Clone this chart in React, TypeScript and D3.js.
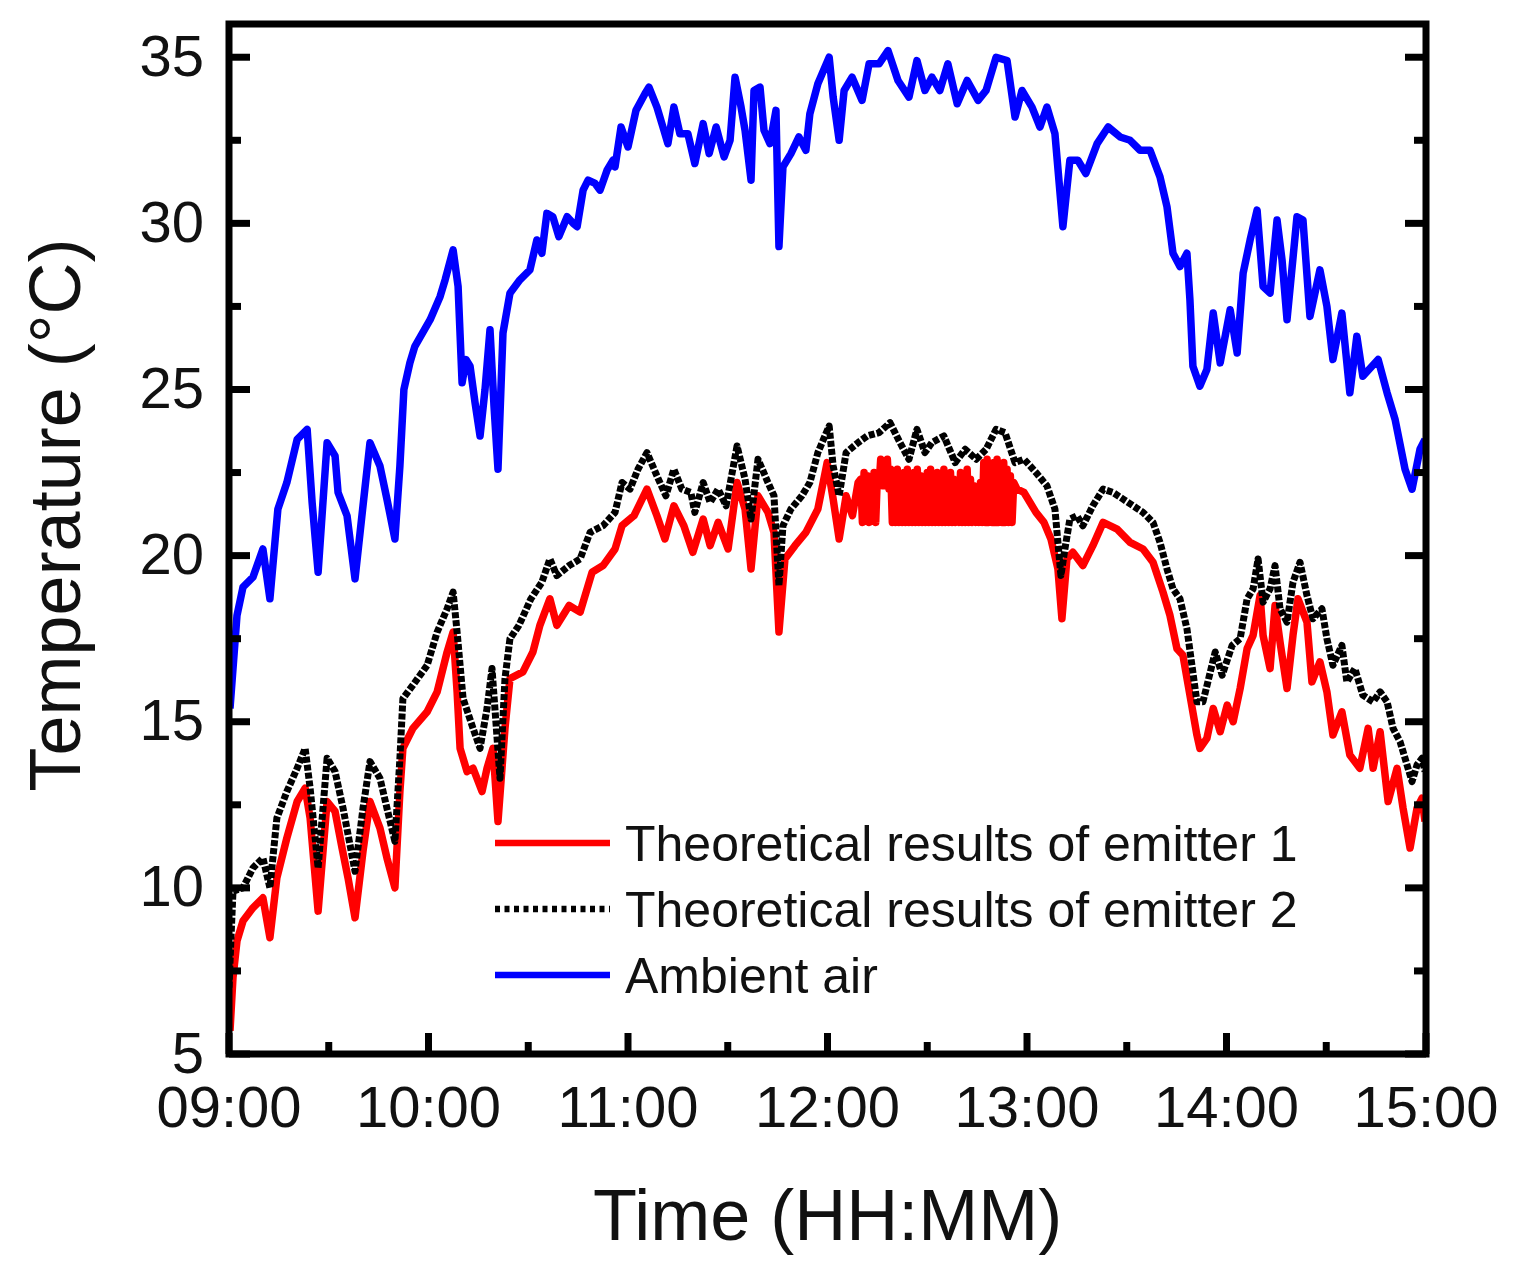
import React from 'react';
import * as d3 from 'd3';

type Pt = [number, number];

// time in minutes after 09:00, temperature in °C
const xTickLabels = ['09:00', '10:00', '11:00', '12:00', '13:00', '14:00', '15:00'];
const yTickValues = [5, 10, 15, 20, 25, 30, 35];
const legendLabels = ['Theoretical results of emitter 1', 'Theoretical results of emitter 2', 'Ambient air'];

const ambientAir: Pt[] = [
  [0.3, 15.4], [2.4, 18.2], [4.2, 19.05], [7.2, 19.35], [10.2, 20.2], [12.3, 18.7], [14.7, 21.4], [17.4, 22.2],
  [20.5, 23.5], [23.5, 23.8], [25.0, 21.6], [26.8, 19.5], [29.5, 23.4], [31.9, 23.0], [32.8, 21.9], [35.5, 21.2],
  [37.9, 19.3], [40.3, 21.5], [42.4, 23.4], [45.4, 22.7], [47.5, 21.7], [49.9, 20.5], [51.4, 22.7], [52.6, 25.0],
  [54.4, 25.8], [55.9, 26.3], [60.5, 27.1], [63.5, 27.8], [65.0, 28.3], [67.4, 29.2], [68.9, 28.1], [70.1, 25.2],
  [71.3, 25.9], [72.5, 25.7], [74.0, 24.6], [75.5, 23.6], [77.0, 25.0], [78.5, 26.8], [79.7, 24.5], [80.9, 22.6],
  [82.4, 26.7], [84.5, 27.9], [87.5, 28.3], [90.5, 28.6], [92.6, 29.5], [94.1, 29.1], [95.6, 30.3], [97.4, 30.2],
  [99.2, 29.6], [101.7, 30.2], [103.5, 30.0], [104.7, 29.9], [106.5, 31.0], [108.0, 31.3], [110.1, 31.2], [111.6, 31.0],
  [113.7, 31.6], [115.5, 31.9], [116.1, 31.7], [117.9, 32.9], [120.0, 32.3], [122.4, 33.4], [125.1, 33.9], [126.3, 34.1],
  [128.7, 33.5], [130.5, 32.9], [132.0, 32.4], [133.8, 33.5], [135.6, 32.7], [138.0, 32.7], [140.1, 31.8], [142.6, 33.0],
  [144.4, 32.1], [146.5, 32.9], [148.9, 32.0], [150.7, 32.5], [152.2, 34.4], [154.0, 33.5], [155.2, 32.8], [157.0, 31.3],
  [157.9, 34.0], [159.7, 34.1], [160.9, 32.8], [162.7, 32.4], [164.5, 33.4], [165.4, 29.3], [166.6, 31.7], [169.0, 32.1],
  [171.4, 32.6], [173.5, 32.2], [174.7, 33.3], [177.1, 34.2], [180.5, 35.0], [181.7, 33.8], [183.5, 32.5], [185.0, 34.0],
  [187.4, 34.4], [190.4, 33.7], [192.5, 34.8], [195.5, 34.8], [198.2, 35.2], [201.2, 34.3], [204.5, 33.8], [206.9, 34.9],
  [209.3, 34.0], [211.4, 34.4], [213.8, 34.0], [216.2, 34.8], [219.0, 33.6], [222.0, 34.3], [225.3, 33.7], [227.7, 34.0],
  [230.7, 35.0], [234.0, 34.9], [236.4, 33.2], [238.5, 34.0], [241.5, 33.5], [243.9, 32.9], [246.0, 33.5], [248.4, 32.7],
  [250.8, 29.9], [252.9, 31.9], [255.3, 31.9], [257.7, 31.5], [261.1, 32.4], [264.4, 32.9], [268.0, 32.6], [271.0, 32.5],
  [274.0, 32.2], [277.0, 32.2], [280.0, 31.4], [282.1, 30.5], [283.9, 29.1], [286.0, 28.7], [288.1, 29.1], [289.0, 27.7],
  [289.9, 25.7], [292.0, 25.1], [294.1, 25.6], [296.0, 27.3], [298.1, 25.8], [301.1, 27.4], [303.2, 26.1], [305.0, 28.5],
  [307.1, 29.5], [309.2, 30.4], [311.0, 28.1], [313.1, 27.9], [315.2, 30.1], [316.7, 28.9], [318.2, 27.1], [321.2, 30.2],
  [323.0, 30.1], [325.1, 27.2], [328.1, 28.6], [330.2, 27.5], [332.0, 25.9], [334.7, 27.3], [337.1, 24.9], [339.2, 26.6],
  [341.0, 25.4], [345.6, 25.9], [348.3, 24.9], [350.7, 24.1], [353.7, 22.6], [355.8, 22.0], [358.2, 23.2], [359.7, 23.5],
];

const emitter1: Pt[] = [
  [0.3, 5.7], [1.2, 7.3], [2.4, 8.4], [4.2, 9.0], [7.2, 9.4], [10.2, 9.7], [12.3, 8.5], [14.4, 10.3], [17.4, 11.5],
  [20.5, 12.6], [22.9, 13.0], [24.4, 12.1], [26.8, 9.3], [29.5, 12.6], [31.9, 12.3], [34.0, 11.2], [35.8, 10.3],
  [37.9, 9.1], [40.3, 11.1], [42.4, 12.6], [45.4, 11.8], [47.5, 10.9], [49.9, 10.0], [51.4, 12.9], [52.3, 14.2],
  [55.3, 14.8], [59.6, 15.3], [62.6, 15.9], [65.6, 17.1], [67.4, 17.7], [68.6, 15.9], [69.5, 14.2], [71.6, 13.5],
  [73.4, 13.6], [76.1, 12.9], [77.6, 13.6], [79.4, 14.2], [80.9, 12.0], [83.0, 14.8], [84.5, 16.3], [88.4, 16.5],
  [91.4, 17.1], [93.5, 17.9], [96.5, 18.7], [98.6, 17.9], [102.3, 18.5], [105.6, 18.3], [109.2, 19.5], [112.5, 19.7],
  [116.1, 20.2], [118.2, 20.9], [121.8, 21.2], [125.7, 22.0], [128.7, 21.2], [131.1, 20.5], [133.8, 21.5], [136.8, 20.9],
  [139.5, 20.1], [142.6, 21.1], [144.7, 20.3], [147.1, 21.0], [150.1, 20.2], [152.8, 22.2], [155.2, 21.4], [157.0, 19.6],
  [159.1, 21.8], [162.1, 21.3], [163.9, 20.7], [165.4, 17.7], [167.2, 19.9], [170.2, 20.3], [173.5, 20.7], [177.1, 21.4],
  [179.9, 22.8], [181.7, 21.7], [183.5, 20.5], [185.6, 21.8], [187.5, 21.2], [189.2, 22.2],
  [190.0, 22.3], [190.5, 21.0], [191.0, 22.5], [191.5, 21.1], [192.0, 22.4], [192.5, 21.0], [193.0, 22.2], [193.5, 21.1],
  [194.0, 22.5], [194.5, 21.0], [195.0, 22.4], [195.5, 22.1], [196.0, 22.9], [196.5, 22.1], [197.0, 22.8], [197.5, 22.1],
  [198.0, 22.9], [198.5, 22.0], [199.0, 22.6], [199.5, 21.0], [200.0, 22.5], [200.5, 21.0], [201.0, 22.6], [201.5, 21.0],
  [202.0, 22.4], [202.5, 21.0], [203.0, 22.5], [203.5, 21.0], [204.0, 22.6], [204.5, 21.0], [205.0, 22.3], [205.5, 21.0],
  [206.0, 22.5], [206.5, 21.0], [207.0, 22.6], [207.5, 21.0], [208.0, 22.4], [208.5, 21.0], [209.0, 22.3], [209.5, 21.0],
  [210.0, 22.5], [210.5, 21.0], [211.0, 22.6], [211.5, 21.0], [212.0, 22.4], [212.5, 21.0], [213.0, 22.5], [213.5, 21.0],
  [214.0, 22.3], [214.5, 21.0], [215.0, 22.6], [215.5, 21.0], [216.0, 22.4], [216.5, 21.0], [217.0, 22.5], [217.5, 21.0],
  [218.0, 22.3], [218.5, 21.0], [219.0, 22.0], [219.5, 21.0], [220.0, 22.5], [220.5, 21.0], [221.0, 22.4], [221.5, 21.0],
  [222.0, 22.6], [222.5, 21.0], [223.0, 22.3], [223.5, 21.0], [224.0, 22.1], [224.5, 21.0], [225.0, 22.0], [225.5, 21.0],
  [226.0, 22.2], [226.5, 21.0], [227.0, 22.8], [227.5, 21.0], [228.0, 22.9], [228.5, 21.0], [229.0, 22.7], [229.5, 21.0],
  [230.0, 22.8], [230.5, 21.0], [231.0, 22.9], [231.5, 21.0], [232.0, 22.7], [232.5, 21.0], [233.0, 22.8], [233.5, 21.0],
  [234.0, 22.6], [234.5, 21.0], [235.0, 22.4], [235.5, 21.0], [236.0, 22.2],
  [237.0, 22.0], [239.1, 21.9], [242.7, 21.3], [245.1, 21.0], [247.2, 20.5], [249.3, 19.6], [250.5, 18.1], [252.0, 19.9],
  [253.8, 20.1], [256.8, 19.7], [259.8, 20.3], [262.9, 21.0], [267.1, 20.8], [271.0, 20.4], [274.9, 20.2], [277.9, 19.8],
  [280.9, 18.9], [283.0, 18.2], [285.1, 17.2], [286.9, 17.0], [289.0, 15.8], [291.1, 14.6], [292.0, 14.2], [294.1, 14.5],
  [296.0, 15.4], [298.1, 14.7], [300.2, 15.5], [302.0, 15.0], [304.1, 16.0], [306.2, 17.2], [308.0, 17.6], [310.1, 18.8],
  [311.0, 17.6], [313.1, 16.6], [314.6, 18.5], [316.1, 17.4], [318.2, 16.0], [320.0, 17.6], [321.5, 18.7], [324.2, 18.0],
  [325.7, 16.2], [328.1, 16.8], [330.2, 15.9], [332.0, 14.6], [334.7, 15.3], [337.1, 14.0], [340.1, 13.6], [342.6, 14.8],
  [344.1, 13.6], [346.2, 14.7], [348.6, 12.6], [351.3, 13.6], [353.1, 12.4], [355.2, 11.2], [357.3, 12.4], [358.8, 12.7],
  [359.7, 12.0],
];

const emitter2: Pt[] = [
  [0.0, 7.0], [0.6, 8.5], [1.2, 9.9], [4.2, 10.0], [7.2, 10.6], [10.2, 10.9], [12.3, 10.0], [14.4, 12.1], [17.4, 12.9],
  [20.5, 13.6], [22.9, 14.2], [24.4, 13.0], [26.8, 10.6], [29.5, 13.9], [31.9, 13.5], [34.3, 12.4], [37.9, 10.5],
  [40.3, 12.4], [42.4, 13.8], [45.4, 13.3], [47.5, 12.4], [49.9, 11.4], [51.4, 13.9], [52.3, 15.7], [55.3, 16.1],
  [59.6, 16.7], [62.6, 17.7], [65.6, 18.4], [67.4, 18.9], [68.6, 17.7], [70.4, 15.7], [73.4, 14.8], [75.5, 14.2],
  [77.6, 15.4], [79.1, 16.6], [81.5, 13.3], [83.0, 16.3], [84.5, 17.5], [87.2, 17.9], [90.8, 18.7], [94.1, 19.2],
  [96.5, 19.9], [98.6, 19.4], [102.3, 19.7], [105.6, 19.9], [108.6, 20.7], [112.5, 20.9], [116.1, 21.3], [118.2, 22.2],
  [120.6, 22.0], [123.0, 22.6], [125.7, 23.1], [128.7, 22.4], [131.4, 21.8], [133.8, 22.6], [136.2, 22.0], [138.9, 21.9],
  [140.1, 21.3], [142.6, 22.2], [144.7, 21.6], [147.1, 22.0], [149.5, 21.5], [152.8, 23.3], [155.2, 22.3], [157.0, 21.1],
  [159.1, 22.9], [162.1, 22.2], [163.9, 21.8], [165.4, 19.1], [166.6, 20.9], [169.0, 21.4], [172.3, 21.8], [174.7, 22.2],
  [177.1, 23.1], [180.5, 23.9], [181.7, 22.7], [183.5, 21.8], [185.6, 23.1], [189.2, 23.4], [191.9, 23.6], [195.5, 23.7],
  [198.8, 24.0], [201.8, 23.4], [204.5, 22.9], [206.9, 23.8], [209.3, 23.1], [211.4, 23.4], [215.0, 23.6], [218.4, 22.8],
  [221.4, 23.2], [224.7, 22.9], [227.7, 23.2], [230.7, 23.8], [233.4, 23.7], [236.4, 22.8], [239.1, 22.9], [242.7, 22.5],
  [246.0, 22.1], [248.4, 21.4], [250.2, 19.4], [251.4, 20.2], [252.9, 21.1], [255.0, 21.2], [256.8, 20.9], [259.8, 21.5],
  [262.9, 22.0], [265.9, 21.9], [268.9, 21.7], [271.9, 21.5], [274.9, 21.3], [277.9, 21.0], [280.0, 20.4], [282.1, 19.6],
  [283.9, 19.0], [286.0, 18.7], [288.1, 17.8], [289.6, 16.7], [291.1, 15.6], [292.9, 15.6], [294.4, 16.2], [296.6, 17.1],
  [298.7, 16.4], [301.7, 17.3], [304.1, 17.5], [306.2, 18.7], [308.0, 19.0], [309.5, 19.9], [311.0, 18.6], [313.1, 19.0],
  [314.6, 19.7], [316.1, 18.4], [318.2, 18.0], [320.0, 19.2], [322.1, 19.8], [324.2, 18.8], [326.0, 18.1], [328.7, 18.4],
  [330.2, 17.5], [332.0, 16.7], [334.7, 17.3], [336.2, 16.2], [338.6, 16.6], [341.0, 15.8], [344.1, 15.6], [346.2, 15.9],
  [348.3, 15.6], [350.1, 14.8], [352.2, 14.4], [354.3, 13.7], [355.8, 13.2], [357.3, 13.7], [358.8, 13.9], [359.7, 13.5],
];

const FONT = '"Liberation Sans", Arial, Helvetica, sans-serif';

export default function App() {
  const W = 1522;
  const H = 1269;
  const left = 229, right = 1426, top = 24, bottom = 1054;

  const x = d3.scaleLinear().domain([0, 360]).range([left, right]);
  const y = d3.scaleLinear().domain([5, 36]).range([bottom, top]);
  const line = d3.line<Pt>().x((d) => x(d[0])).y((d) => y(d[1]));

  const xMajor = d3.range(0, 361, 60);
  const xMinor = d3.range(30, 360, 60);
  const yMinor = d3.range(7.5, 36, 5);

  const legendItems = [
    { label: legendLabels[0], color: '#ff0000', dash: undefined as string | undefined },
    { label: legendLabels[1], color: '#000000', dash: '5 4.5' },
    { label: legendLabels[2], color: '#0000ff', dash: undefined as string | undefined },
  ];

  return (
    <svg
      width={W}
      height={H}
      viewBox={`0 0 ${W} ${H}`}
      style={{ position: 'absolute', left: 0, top: 0, background: '#fff' }}
    >
      <defs>
        <clipPath id="plot">
          <rect x={left} y={top} width={right - left} height={bottom - top} />
        </clipPath>
      </defs>
      <rect x={0} y={0} width={W} height={H} fill="#fff" />

      <g clipPath="url(#plot)" fill="none" strokeLinejoin="round">
        <path d={line(ambientAir) || ''} stroke="#0000ff" strokeWidth={7.5} />
        <path d={line(emitter1) || ''} stroke="#ff0000" strokeWidth={7.5} />
        <path d={line(emitter2) || ''} stroke="#000000" strokeWidth={7} strokeDasharray="6 2" />
      </g>

      {/* ticks */}
      <g stroke="#000" strokeWidth={7}>
        {xMajor.map((t) => (
          <line key={`xM${t}`} x1={x(t)} x2={x(t)} y1={bottom} y2={bottom - 21} />
        ))}
        {xMinor.map((t) => (
          <line key={`xm${t}`} x1={x(t)} x2={x(t)} y1={bottom} y2={bottom - 12} />
        ))}
        {yTickValues.map((t) => (
          <g key={`yM${t}`}>
            <line x1={left} x2={left + 21} y1={y(t)} y2={y(t)} />
            <line x1={right} x2={right - 21} y1={y(t)} y2={y(t)} />
          </g>
        ))}
        {yMinor.map((t) => (
          <g key={`ym${t}`}>
            <line x1={left} x2={left + 12} y1={y(t)} y2={y(t)} />
            <line x1={right} x2={right - 12} y1={y(t)} y2={y(t)} />
          </g>
        ))}
      </g>

      <rect
        x={left}
        y={top}
        width={right - left}
        height={bottom - top}
        fill="none"
        stroke="#000"
        strokeWidth={7}
      />

      {/* tick labels */}
      <g fontFamily={FONT} fontSize={58} fill="#111">
        {yTickValues.map((t) => (
          <text key={`yl${t}`} x={204} y={y(t) - 2} textAnchor="end" dominantBaseline="central">
            {t}
          </text>
        ))}
        {xTickLabels.map((lab, i) => (
          <text key={`xl${lab}`} x={x(xMajor[i])} y={1127} textAnchor="middle">
            {lab}
          </text>
        ))}
      </g>

      {/* axis titles */}
      <text
        x={(left + right) / 2}
        y={1240}
        textAnchor="middle"
        fontFamily={FONT}
        fontSize={72}
        fill="#111"
      >
        Time (HH:MM)
      </text>
      <text
        transform={`translate(80, 515) rotate(-90)`}
        textAnchor="middle"
        fontFamily={FONT}
        fontSize={72}
        fill="#111"
      >
        Temperature (°C)
      </text>

      {/* legend */}
      <g>
        {legendItems.map((it, i) => {
          const ly = 843 + i * 66;
          return (
            <g key={it.label}>
              <line
                x1={495}
                x2={610}
                y1={ly}
                y2={ly}
                stroke={it.color}
                strokeWidth={6.5}
                strokeDasharray={it.dash}
              />
              <text
                x={625}
                y={ly + 18}
                fontFamily={FONT}
                fontSize={50}
                fill="#111"
              >
                {it.label}
              </text>
            </g>
          );
        })}
      </g>
    </svg>
  );
}
